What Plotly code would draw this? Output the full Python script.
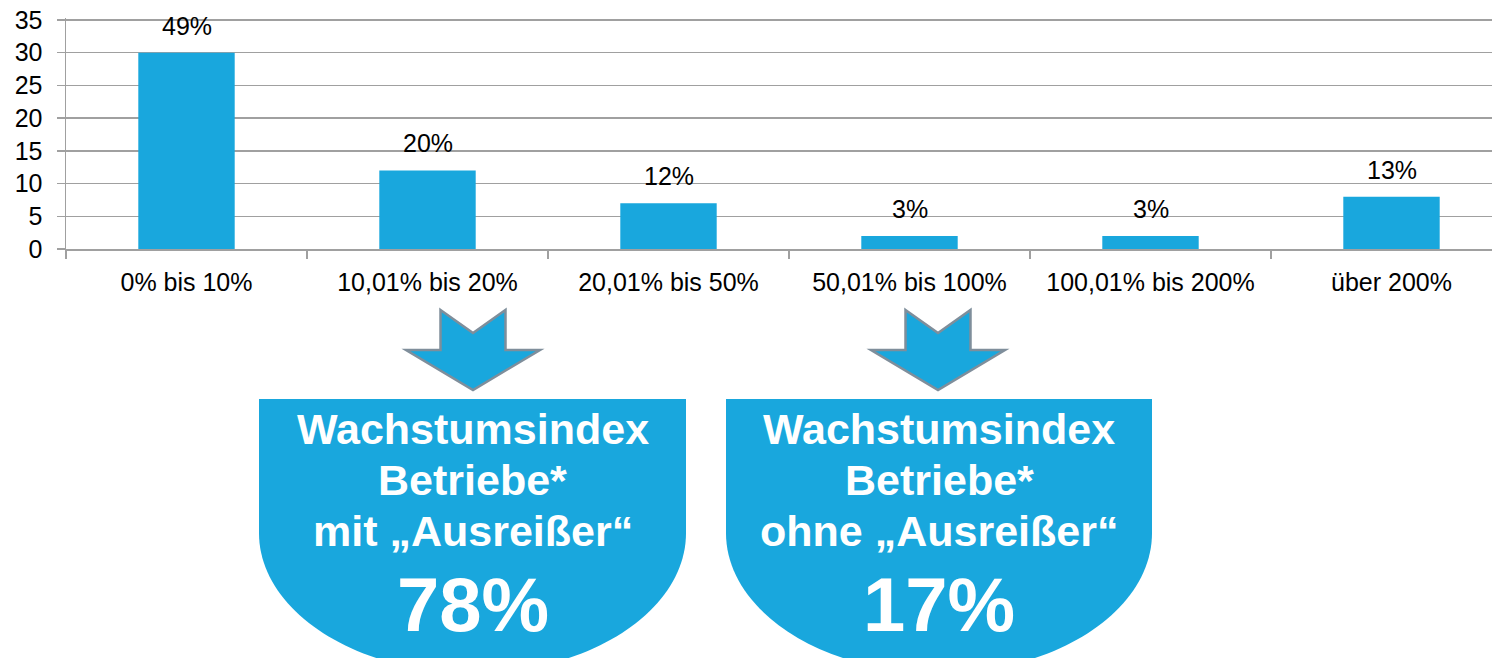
import plotly.graph_objects as go

categories = ["0% bis 10%", "10,01% bis 20%", "20,01% bis 50%", "50,01% bis 100%", "100,01% bis 200%", "über 200%"]
values = [30, 12, 7, 2, 2, 8]
shares = ["49%", "20%", "12%", "3%", "3%", "13%"]
y_ticks = [0, 5, 10, 15, 20, 25, 30, 35]

box_titles = ["Wachstumsindex", "Betriebe*"]
box_subtitles = ["mit „Ausreißer“", "ohne „Ausreißer“"]
box_values = ["78%", "17%"]

W, H = 1492, 658
YMAX = 35.3
ML, MR, MT, MB = 66, 0, 18, 409
PW, PH = W - ML - MR, H - MT - MB

BLUE = "#19A7DD"
GRID = "#A0A0A0"
FONT = "Liberation Sans, Arial, Helvetica, sans-serif"


def px(x):
    return (x - ML) / PW


def py(y):
    return (H - MB - y) / PH


fig = go.Figure()
fig.add_trace(go.Bar(
    x=categories, y=values,
    marker=dict(color=BLUE, line=dict(width=0)),
    width=0.4, cliponaxis=False, hoverinfo="skip",
))

shapes = []
annotations = []

for c, v, s in zip(categories, values, shares):
    annotations.append(dict(
        x=c, y=v, xref="x", yref="y", text=s, showarrow=False,
        xanchor="center", yanchor="bottom", yshift=11,
        font=dict(size=25, color="#000000", family=FONT),
    ))

# box and arrow geometry (pixels)
boxes = [dict(l=259, r=686, arrow_cx=473), dict(l=726, r=1152, arrow_cx=938)]
top, straight_end, b = 399, 533, 140
k = 0.5523

for i, bx in enumerate(boxes):
    l, r = bx["l"], bx["r"]
    cx = (l + r) / 2
    a = (r - l) / 2
    path = (
        f"M {px(l)},{py(top)} L {px(r)},{py(top)} L {px(r)},{py(straight_end)} "
        f"C {px(r)},{py(straight_end + k*b)} {px(cx + k*a)},{py(straight_end + b)} {px(cx)},{py(straight_end + b)} "
        f"C {px(cx - k*a)},{py(straight_end + b)} {px(l)},{py(straight_end + k*b)} {px(l)},{py(straight_end)} Z"
    )
    shapes.append(dict(type="path", xref="paper", yref="paper", path=path,
                       fillcolor=BLUE, line=dict(width=0), layer="above"))
    ac = bx["arrow_cx"]
    sh = 32.5  # shaft half width
    wh = 67    # wing half width
    apts = [(ac - sh, 310), (ac, 333), (ac + sh, 310), (ac + sh, 350), (ac + wh, 350),
            (ac, 390), (ac - wh, 350), (ac - sh, 350)]
    apath = "M " + " L ".join(f"{px(x)},{py(y)}" for x, y in apts) + " Z"
    shapes.append(dict(type="path", xref="paper", yref="paper", path=apath,
                       fillcolor=BLUE, line=dict(color="#7F8E9B", width=2.5), layer="above"))

    lines = [(box_titles[0], 446, 43), (box_titles[1], 497, 43), (box_subtitles[i], 548, 43), (box_values[i], 633, 76)]
    for txt, base, size in lines:
        annotations.append(dict(
            x=px(cx), y=py(base), xref="paper", yref="paper", text=f"<b>{txt}</b>",
            showarrow=False, xanchor="center", yanchor="bottom", yshift=-size * 0.21,
            font=dict(size=size, color="#FFFFFF", family=FONT),
        ))

fig.update_layout(
    width=W, height=H,
    margin=dict(l=ML, r=MR, t=MT, b=MB, pad=0, autoexpand=False),
    paper_bgcolor="#FFFFFF", plot_bgcolor="#FFFFFF",
    showlegend=False,
    shapes=shapes, annotations=annotations,
    xaxis=dict(
        range=[-0.5, -0.5 + PW / 241.0], showgrid=False,
        showline=True, linecolor=GRID, linewidth=1.5,
        ticks="outside", tickson="boundaries", ticklen=8, tickcolor=GRID, tickwidth=1.5,
        tickfont=dict(size=25, color="#000000", family=FONT), ticklabelstandoff=10,
        fixedrange=True, automargin=False, ticklabeloverflow="allow",
    ),
    yaxis=dict(
        range=[0, YMAX], tickmode="array", tickvals=y_ticks, ticktext=[str(t) for t in y_ticks],
        showgrid=True, gridcolor=GRID, gridwidth=1.5,
        showline=True, linecolor=GRID, linewidth=1.5, zeroline=False,
        ticks="outside", ticklen=8, tickcolor=GRID, tickwidth=1.5,
        tickfont=dict(size=25, color="#000000", family=FONT), ticklabelstandoff=9,
        fixedrange=True, automargin=False, ticklabeloverflow="allow",
    ),
)

fig.write_html(
    "out.html",
    config={"displayModeBar": False, "staticPlot": True},
    post_script="document.body.style.margin='0';document.body.style.overflow='hidden';",
)
